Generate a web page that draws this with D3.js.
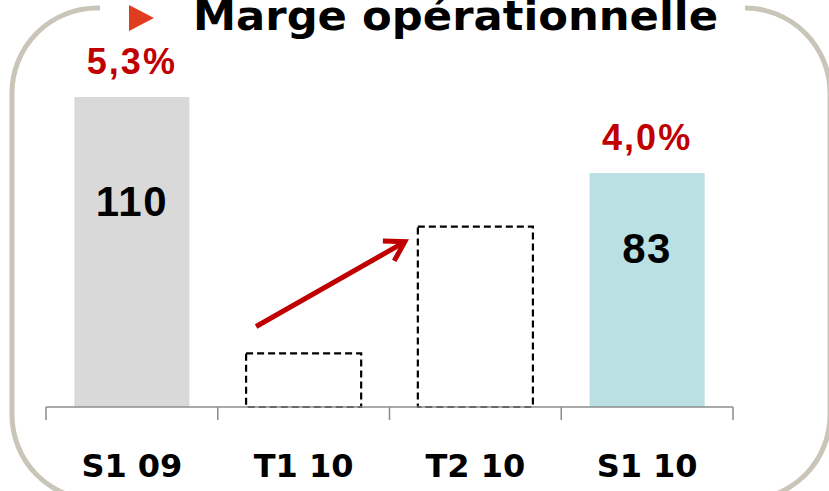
<!DOCTYPE html>
<html>
<head>
<meta charset="utf-8">
<script src="https://cdn.jsdelivr.net/npm/d3@7"></script>
<style>
  body { margin: 0; background: #fff; }
  svg { display: block; }
</style>
</head>
<body>
<div id="chart"></div>
<script>
// data
var categories = ["S1 09", "T1 10", "T2 10", "S1 10"];
var values = [110, 19, 64, 83];
var valueLabels = ["110", "", "", "83"];
var marginLabels = ["5,3%", "", "", "4,0%"];
var title = "Marge opérationnelle";

var width = 829, height = 491;
var baseY = 407;

var svg = d3.select("#chart").append("svg")
    .attr("width", width)
    .attr("height", height);

// rounded frame, open at the top where the title sits
var fl = 12, ft = 8, fr = 830, fb = 500, r = 85;
var gapL = 100, gapR = 745;
var framePath = "M" + gapL + "," + ft +
    " L" + (fl + r) + "," + ft +
    " A" + r + "," + r + " 0 0 0 " + fl + "," + (ft + r) +
    " L" + fl + "," + (fb - r) +
    " A" + r + "," + r + " 0 0 0 " + (fl + r) + "," + fb +
    " L" + (fr - r) + "," + fb +
    " A" + r + "," + r + " 0 0 0 " + fr + "," + (fb - r) +
    " L" + fr + "," + (ft + r) +
    " A" + r + "," + r + " 0 0 0 " + (fr - r) + "," + ft +
    " L" + gapR + "," + ft;
svg.append("path")
    .attr("d", framePath)
    .attr("fill", "none")
    .attr("stroke", "#c9c6b9")
    .attr("stroke-width", 5);

// title
svg.append("path")
    .attr("d", "M129,5 L154,18 L129,31 Z")
    .attr("fill", "#e03c1f");
svg.append("text")
    .attr("x", 193)
    .attr("y", 30)
    .attr("textLength", 525)
    .attr("lengthAdjust", "spacingAndGlyphs")
    .attr("font-family", "'DejaVu Sans', sans-serif")
    .attr("font-weight", "bold")
    .attr("font-size", 40)
    .attr("fill", "#000")
    .text(title);

// scales
var x = d3.scaleBand()
    .domain(categories)
    .range([46, 733])
    .paddingInner(0.33)
    .paddingOuter(0.165);

var y = d3.scaleLinear()
    .domain([0, 110])
    .range([baseY, 97]);

var fills = ["#d9d9d9", "none", "none", "#bbe0e3"];
var dashed = [false, true, true, false];

svg.selectAll("rect.bar")
    .data(values)
  .enter().append("rect")
    .attr("class", "bar")
    .attr("x", function(d, i) { return x(categories[i]); })
    .attr("y", function(d) { return y(d); })
    .attr("width", x.bandwidth())
    .attr("height", function(d) { return baseY - y(d); })
    .attr("fill", function(d, i) { return dashed[i] ? "#fff" : fills[i]; })
    .attr("stroke", function(d, i) { return dashed[i] ? "#000" : "none"; })
    .attr("stroke-width", 2.2)
    .attr("stroke-dasharray", function(d, i) { return dashed[i] ? "7,4" : null; });

// axis line and boundary ticks
var half = x.step() * x.paddingInner() / 2;
var bounds = categories.map(function(c) { return x(c) - half; });
bounds.push(x(categories[categories.length - 1]) + x.bandwidth() + half);

svg.append("line")
    .attr("x1", bounds[0]).attr("x2", bounds[bounds.length - 1])
    .attr("y1", baseY).attr("y2", baseY)
    .attr("stroke", "#8c8c8c")
    .attr("stroke-width", 1.5);

svg.selectAll("line.tick")
    .data(bounds)
  .enter().append("line")
    .attr("class", "tick")
    .attr("x1", function(d) { return d; }).attr("x2", function(d) { return d; })
    .attr("y1", baseY).attr("y2", baseY + 13)
    .attr("stroke", "#8c8c8c")
    .attr("stroke-width", 1.5);

svg.selectAll("text.cat")
    .data(categories)
  .enter().append("text")
    .attr("class", "cat")
    .attr("x", function(d) { return x(d) + x.bandwidth() / 2; })
    .attr("y", 477)
    .attr("text-anchor", "middle")
    .attr("font-family", "'DejaVu Sans', sans-serif")
    .attr("font-weight", "bold")
    .attr("font-size", 32)
    .attr("fill", "#000")
    .text(function(d) { return d; });

// values inside bars
svg.selectAll("text.val")
    .data(values)
  .enter().append("text")
    .attr("class", "val")
    .attr("x", function(d, i) { return x(categories[i]) + x.bandwidth() / 2; })
    .attr("y", function(d) { return y(d * 0.615); })
    .attr("text-anchor", "middle")
    .attr("font-family", "'Liberation Sans', Arial, sans-serif")
    .attr("font-weight", "bold")
    .attr("font-size", 42)
    .attr("letter-spacing", 1.5)
    .attr("fill", "#000")
    .text(function(d, i) { return valueLabels[i]; });

// margin rates above bars
svg.selectAll("text.rate")
    .data(values)
  .enter().append("text")
    .attr("class", "rate")
    .attr("x", function(d, i) { return x(categories[i]) + x.bandwidth() / 2; })
    .attr("y", function(d) { return y(d) - 23; })
    .attr("text-anchor", "middle")
    .attr("font-family", "'Liberation Sans', Arial, sans-serif")
    .attr("font-weight", "bold")
    .attr("font-size", 36)
    .attr("letter-spacing", 2)
    .attr("fill", "#c00000")
    .text(function(d, i) { return marginLabels[i]; });

// growth arrow from T1 to T2
var ax1 = x(categories[1]) + 10, ay1 = y(values[1]) - 27;
var ax2 = x(categories[2]) - 13, ay2 = y(values[2]) + 15;
svg.append("line")
    .attr("x1", ax1).attr("y1", ay1)
    .attr("x2", ax2 - 3).attr("y2", ay2 + 2)
    .attr("stroke", "#c00000")
    .attr("stroke-width", 5);
var ang = Math.atan2(ay2 - ay1, ax2 - ax1);
var hl = 22;
var p1 = [ax2 - hl * Math.cos(ang - 0.55), ay2 - hl * Math.sin(ang - 0.55)];
var p2 = [ax2 - hl * Math.cos(ang + 0.55), ay2 - hl * Math.sin(ang + 0.55)];
svg.append("path")
    .attr("d", "M" + p1 + " L" + ax2 + "," + ay2 + " L" + p2)
    .attr("fill", "none")
    .attr("stroke", "#c00000")
    .attr("stroke-width", 5)
    .attr("stroke-linejoin", "miter");
</script>
</body>
</html>
